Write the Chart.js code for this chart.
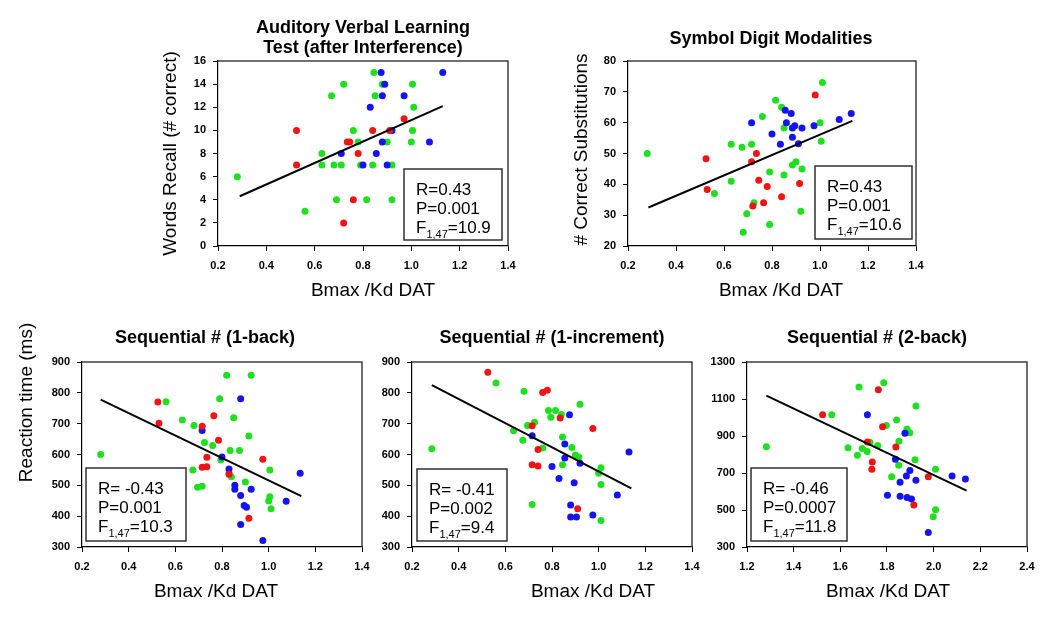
<!DOCTYPE html>
<html>
<head>
<meta charset="utf-8">
<script src="https://cdn.jsdelivr.net/npm/chart.js@4.4.1/dist/chart.umd.min.js"></script>
<style>
body{margin:0;background:#fff;}
#wrap{position:relative;width:1050px;height:617px;overflow:hidden;background:#fff;}
canvas{position:absolute;}
</style>
</head>
<body>
<div id="wrap">
  <canvas id="c1"></canvas><canvas id="c2"></canvas>
  <canvas id="c3"></canvas><canvas id="c4"></canvas><canvas id="c5"></canvas>
</div>
<script>
// values: [Bmax/Kd DAT, score]
const avltGreen=[[0.28,6],[0.56,3],[0.63,8],[0.63,7],[0.67,13],[0.68,7],[0.69,4],[0.71,7],[0.72,14],[0.76,10],[0.78,9],[0.79,7],[0.815,4],[0.84,7],[0.845,15],[0.85,13],[0.88,14],[0.9,9],[0.92,7],[0.92,4],[1.0,9],[1.005,14],[1.005,10],[1.01,12]];
const avltBlue=[[0.71,8],[0.8,7],[0.83,12],[0.855,8],[0.875,15],[0.88,13],[0.88,9],[0.89,14],[0.9,7],[0.92,10],[0.97,13],[1.075,9],[1.13,15]];
const avltRed=[[0.525,10],[0.525,7],[0.735,9],[0.745,9],[0.78,8],[0.76,4],[0.72,2],[0.84,10],[0.91,10],[0.97,11]];
const avltFit=[[0.29,4.3],[1.13,12.1]];

const sdmtGreen=[[0.28,50],[0.56,37],[0.63,53],[0.63,41],[0.675,52],[0.68,24.5],[0.695,30.5],[0.715,53],[0.725,34],[0.76,62],[0.79,44],[0.79,27],[0.815,67.3],[0.84,65],[0.85,58.3],[0.85,43],[0.885,46.3],[0.9,47.3],[0.925,45],[0.92,31.3],[1.0,60],[1.005,54],[1.01,73]];
const sdmtBlue=[[0.715,60],[0.8,56.3],[0.835,53],[0.855,64],[0.86,60],[0.88,63],[0.885,58.3],[0.885,55.3],[0.895,59],[0.925,58.3],[0.91,53.2],[0.975,59],[1.08,61],[1.13,63]];
const sdmtRed=[[0.525,48.3],[0.53,38.3],[0.715,47.3],[0.735,50],[0.745,41.3],[0.78,39.3],[0.765,34],[0.72,33],[0.84,36],[0.915,40.3],[0.98,69]];
const sdmtFit=[[0.285,32.5],[1.135,60.6]];

const oneBackGreen=[[0.28,600],[0.56,771],[0.63,712],[0.68,694],[0.675,550],[0.695,494],[0.715,497],[0.725,639],[0.76,629],[0.79,781],[0.82,857],[0.795,582],[0.835,613],[0.875,613],[0.83,541],[0.84,528],[0.85,719],[0.9,511],[0.915,660],[0.925,857],[1.005,550],[1.005,463],[1.0,449],[1.01,424]];
const oneBackBlue=[[0.715,678],[0.8,592],[0.83,553],[0.855,500],[0.855,487],[0.88,781],[0.88,467],[0.88,373],[0.895,435],[0.905,429],[0.925,487],[0.975,321],[1.075,448],[1.135,539]];
const oneBackRed=[[0.525,770],[0.53,701],[0.715,692],[0.715,559],[0.735,560],[0.735,591],[0.765,726],[0.785,646],[0.83,536],[0.975,585],[0.915,393]];
const oneBackFit=[[0.28,778],[1.14,465]];

const oneIncGreen=[[0.285,619],[0.56,832],[0.635,677],[0.68,805],[0.675,646],[0.695,694],[0.725,705],[0.715,438],[0.76,621],[0.785,743],[0.795,721],[0.815,743],[0.84,730],[0.845,567],[0.845,657],[0.885,623],[0.9,598],[0.915,592],[0.92,763],[1.0,539],[1.01,557],[1.01,503],[1.01,386]];
const oneIncBlue=[[0.715,661],[0.8,561],[0.83,522],[0.855,634],[0.855,589],[0.875,729],[0.88,436],[0.88,397],[0.895,508],[0.905,397],[0.92,572],[0.975,404],[1.08,469],[1.13,608]];
const oneIncRed=[[0.525,867],[0.715,693],[0.715,567],[0.74,563],[0.74,616],[0.76,801],[0.78,808],[0.835,718],[0.91,424],[0.975,684]];
const oneIncFit=[[0.285,825],[1.14,490]];

const twoBackGreen=[[1.283,842],[1.563,1015],[1.633,836],[1.673,796],[1.68,1165],[1.694,832],[1.715,816],[1.727,866],[1.76,849],[1.786,1188],[1.797,957],[1.82,680],[1.841,987],[1.85,742],[1.851,871],[1.886,938],[1.898,917],[1.92,772],[1.924,1062],[2.008,720],[2.008,502],[1.998,464]];
const twoBackBlue=[[1.716,1015],[1.802,580],[1.836,775],[1.856,650],[1.856,574],[1.877,915],[1.883,684],[1.886,568],[1.898,713],[1.905,559],[1.924,661],[1.977,378],[2.079,684],[2.136,668]];
const twoBackRed=[[1.524,1015],[1.716,868],[1.737,760],[1.735,720],[1.763,1150],[1.781,950],[1.838,840],[1.915,527],[1.977,680]];
const twoBackFit=[[1.283,1118],[2.141,605]];

const xTitle="Bmax /Kd DAT";
const GREEN="#1fe01f", BLUE="#1414f0", RED="#f01414";
const FONT="'Liberation Sans', Arial, sans-serif";

const pts=a=>a.map(p=>({x:p[0],y:p[1]}));

function makeDeco(d){
  return {id:"deco",
    beforeDatasetsDraw(ch){
      const c=ch.ctx,A=ch.chartArea;
      c.save(); c.strokeStyle="#404040"; c.lineWidth=1.5;
      c.beginPath(); c.moveTo(A.left,A.top); c.lineTo(A.right,A.top); c.lineTo(A.right,A.bottom); c.stroke();
      c.restore();
    },
    afterDraw(ch){
      const c=ch.ctx,A=ch.chartArea,cx=(A.left+A.right)/2;
      c.save(); c.fillStyle="#000"; c.textAlign="center"; c.textBaseline="alphabetic";
      c.font="bold 18px "+FONT;
      d.title.forEach((t,i)=>c.fillText(t,cx+d.tdx,A.top+d.ty[i]));
      c.font="19px "+FONT;
      c.fillText(xTitle,cx+d.xdx,A.bottom+50);
      if(d.yt){
        c.save(); c.translate(A.left+d.yx,(A.top+A.bottom)/2+d.ydy); c.rotate(-Math.PI/2);
        c.fillText(d.yt,0,0); c.restore();
      }
      // stats box
      const b=d.box, bx=(b.right?A.right:A.left)+b.dx, by=A.bottom+b.dy;
      c.fillStyle="#fff"; c.fillRect(bx,by,b.w,b.h);
      c.strokeStyle="#303030"; c.lineWidth=1.5; c.strokeRect(bx,by,b.w,b.h);
      c.fillStyle="#000"; c.textAlign="left";
      c.font="17px "+FONT;
      const tx=bx+12;
      c.fillText(d.stats[0],tx,by+26);
      c.fillText(d.stats[1],tx,by+45);
      c.fillText("F",tx,by+64);
      let w=c.measureText("F").width;
      c.font="11px "+FONT; c.fillText("1,47",tx+w,by+69);
      w+=c.measureText("1,47").width;
      c.font="17px "+FONT; c.fillText(d.stats[2],tx+w,by+64);
      c.restore();
    }
  };
}

function panel(id,pos,green,blue,red,fit,xr,yr,d){
  const el=document.getElementById(id);
  el.width=pos.w; el.height=pos.h; el.style.left=pos.x+"px"; el.style.top=pos.y+"px";
  const dot=(data,col)=>({data:pts(data),backgroundColor:col,borderColor:col,borderWidth:0,pointRadius:3.5,pointHoverRadius:3.5});
  const tk={color:"#000",font:{family:FONT,weight:"bold",size:11}};
  return new Chart(el,{
    type:"scatter",
    data:{datasets:[
      {type:"line",data:pts(fit),borderColor:"#000",borderWidth:2,pointRadius:0,fill:false},
      dot(red,RED),dot(blue,BLUE),dot(green,GREEN)
    ]},
    options:{
      responsive:false,animation:false,
      layout:{padding:pos.pad},
      plugins:{legend:{display:false},tooltip:{enabled:false}},
      scales:{
        x:{type:"linear",min:xr[0],max:xr[1],
          ticks:{...tk,stepSize:0.2,padding:8},
          grid:{drawOnChartArea:false,color:"#000",tickLength:5},
          border:{color:"#000",width:1.2},
          afterFit:s=>{s.height=25}},
        y:{min:yr[0],max:yr[1],
          ticks:{...tk,stepSize:yr[2],padding:7,callback:v=>String(v)},
          grid:{drawOnChartArea:false,color:"#000",tickLength:5},
          border:{color:"#000",width:1.2},
          afterFit:s=>{s.width=40}}
      }
    },
    plugins:[makeDeco(d)]
  });
}

panel("c1",{x:140,y:0,w:390,h:305,pad:{left:38,top:61,right:22,bottom:34}},
  avltGreen,avltBlue,avltRed,avltFit,[0.2,1.4],[0,16,2],
  {title:["Auditory Verbal Learning","Test (after Interference)"],ty:[-28,-8],tdx:0,xdx:10,
   yt:"Words Recall (# correct)",yx:-42,ydy:0,
   box:{right:true,dx:-104,dy:-77,w:98,h:71},stats:["R=0.43","P=0.001","=10.9"]});

panel("c2",{x:540,y:0,w:400,h:305,pad:{left:48,top:61,right:24,bottom:34}},
  sdmtGreen,sdmtBlue,sdmtRed,sdmtFit,[0.2,1.4],[20,80,10],
  {title:["Symbol Digit Modalities"],ty:[-17],tdx:-1,xdx:9,
   yt:"# Correct Substitutions",yx:-41,ydy:-4,
   box:{right:true,dx:-101,dy:-80,w:97,h:73},stats:["R=0.43","P=0.001","=10.6"]});

panel("c3",{x:0,y:305,w:380,h:312,pad:{left:42,top:57,right:18,bottom:45}},
  oneBackGreen,oneBackBlue,oneBackRed,oneBackFit,[0.2,1.4],[300,900,100],
  {title:["Sequential # (1-back)"],ty:[-19],tdx:-17,xdx:-6,
   yt:"Reaction time (ms)",yx:-50,ydy:-52,
   box:{right:false,dx:4,dy:-79,w:100,h:73},stats:["R= -0.43","P=0.001","=10.3"]});

panel("c4",{x:365,y:305,w:350,h:312,pad:{left:7,top:57,right:23,bottom:45}},
  oneIncGreen,oneIncBlue,oneIncRed,oneIncFit,[0.2,1.4],[300,900,100],
  {title:["Sequential # (1-increment)"],ty:[-19],tdx:0,xdx:41,
   box:{right:false,dx:5,dy:-78,w:90,h:72},stats:["R= -0.41","P=0.002","=9.4"]});

panel("c5",{x:705,y:305,w:345,h:312,pad:{left:2,top:57,right:23,bottom:45}},
  twoBackGreen,twoBackBlue,twoBackRed,twoBackFit,[1.2,2.4],[300,1300,200],
  {title:["Sequential # (2-back)"],ty:[-19],tdx:-10,xdx:1,
   box:{right:false,dx:4,dy:-79,w:96,h:73},stats:["R= -0.46","P=0.0007","=11.8"]});
</script>
</body>
</html>
